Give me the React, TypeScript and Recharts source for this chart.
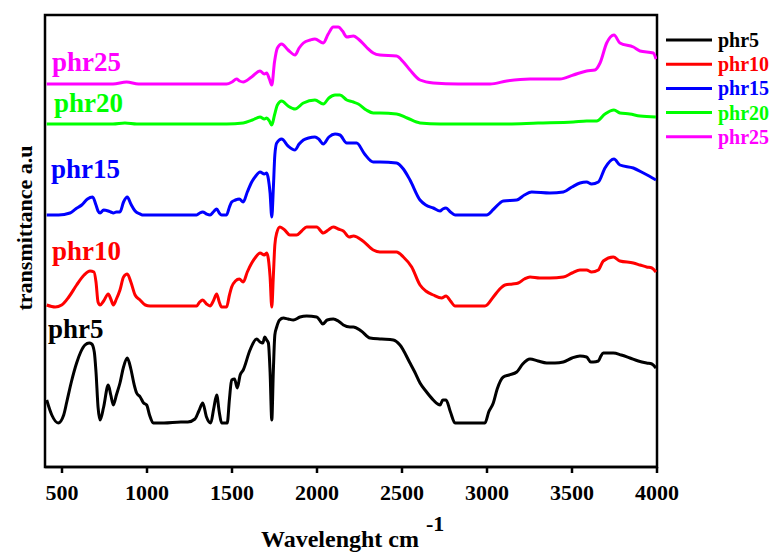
import React from 'react'
import {
  LineChart, Line, XAxis, YAxis, ReferenceArea, Legend,
} from 'recharts'

// FTIR spectra, each curve already shifted up by its stacking offset (a.u.)
// points are [wavenumber cm-1, transmittance a.u.]
const PHR5: [number, number][] = [
  [410, 67], [440, 52], [478, 44], [510, 52], [528, 65], [555, 85], [586, 104], [610, 115],
  [635, 122], [660, 124], [675, 123], [690, 115], [700, 95], [712, 60], [724, 47], [745, 60],
  [772, 82], [787, 72], [802, 62], [820, 72], [841, 84], [862, 100], [884, 109], [905, 98],
  [925, 82], [939, 74], [960, 70], [980, 64], [998, 62], [1015, 52], [1037, 44], [1100, 44],
  [1200, 45], [1240, 45], [1282, 48], [1305, 56], [1328, 64], [1350, 50], [1375, 44], [1392, 58],
  [1410, 72], [1425, 55], [1439, 44], [1472, 44], [1485, 68], [1498, 87], [1515, 88], [1531, 79],
  [1548, 92], [1566, 97], [1606, 117], [1645, 128], [1665, 125], [1681, 124], [1693, 130], [1704, 127],
  [1714, 124], [1724, 95], [1734, 47], [1743, 95], [1752, 132], [1763, 140], [1780, 147], [1802, 149],
  [1830, 148], [1861, 147], [1900, 150], [1939, 151], [1998, 150], [2015, 147], [2034, 143], [2060, 147],
  [2096, 148], [2125, 146], [2155, 142], [2194, 140], [2214, 140], [2260, 136], [2312, 129], [2380, 128],
  [2449, 127], [2488, 122], [2547, 104], [2575, 95], [2606, 84], [2640, 76], [2684, 67], [2710, 63],
  [2724, 62], [2740, 67], [2759, 67], [2785, 55], [2812, 44], [2900, 44], [2988, 44], [3010, 55],
  [3037, 64], [3060, 78], [3096, 90], [3130, 92], [3175, 95], [3210, 103], [3253, 108], [3300, 106],
  [3351, 104], [3400, 104], [3449, 105], [3500, 109], [3547, 111], [3586, 110], [3610, 105], [3625, 105],
  [3655, 106], [3670, 111], [3684, 114], [3743, 114], [3790, 112], [3841, 109], [3890, 106], [3939, 104],
  [3970, 103], [3994, 99],
]

const PHR10: [number, number][] = [
  [410, 162], [460, 160], [498, 162], [540, 170], [586, 182], [630, 192], [665, 196], [688, 195],
  [700, 185], [712, 165], [724, 162], [745, 166], [772, 173], [787, 168], [802, 162], [820, 168],
  [841, 177], [862, 190], [884, 193], [905, 185], [930, 172], [959, 167], [990, 162], [1018, 161],
  [1150, 161], [1292, 161], [1310, 165], [1328, 167], [1350, 163], [1371, 161], [1390, 166], [1410, 173],
  [1425, 165], [1439, 160], [1468, 160], [1485, 172], [1498, 180], [1520, 186], [1543, 188], [1566, 185],
  [1590, 195], [1616, 204], [1640, 210], [1665, 214], [1690, 212], [1704, 214], [1714, 208], [1724, 190],
  [1734, 160], [1743, 190], [1752, 222], [1763, 234], [1782, 240], [1810, 237], [1840, 232], [1880, 232],
  [1910, 236], [1939, 240], [1998, 240], [2037, 234], [2066, 237], [2096, 240], [2125, 238], [2155, 236],
  [2190, 230], [2214, 231], [2270, 226], [2331, 217], [2370, 215], [2468, 215], [2508, 210], [2557, 200],
  [2606, 182], [2640, 176], [2684, 172], [2733, 169], [2759, 171], [2785, 166], [2812, 161], [2900, 161],
  [2988, 161], [3037, 170], [3070, 177], [3106, 182], [3150, 183], [3184, 184], [3220, 188], [3253, 190],
  [3310, 189], [3370, 189], [3449, 190], [3500, 194], [3547, 197], [3586, 197], [3615, 195], [3655, 197],
  [3684, 206], [3743, 210], [3782, 206], [3861, 204], [3900, 202], [3939, 200], [3970, 199], [3994, 195],
]

const PHR15: [number, number][] = [
  [410, 252], [480, 252], [547, 254], [580, 258], [616, 262], [650, 268], [680, 270], [700, 262],
  [712, 256], [724, 254], [745, 257], [772, 256], [787, 255], [802, 254], [820, 255], [841, 255],
  [862, 265], [884, 270], [905, 263], [930, 256], [960, 253], [978, 252], [1100, 252], [1292, 252],
  [1310, 254], [1328, 255], [1350, 253], [1371, 252], [1390, 255], [1410, 258], [1425, 254], [1439, 252],
  [1468, 252], [1485, 260], [1498, 265], [1520, 267], [1543, 268], [1566, 265], [1590, 275], [1616, 285],
  [1640, 291], [1665, 295], [1690, 293], [1704, 294], [1714, 288], [1724, 274], [1734, 250], [1743, 278],
  [1752, 312], [1763, 324], [1792, 328], [1830, 321], [1871, 317], [1895, 323], [1920, 327], [1950, 329],
  [1988, 330], [2010, 328], [2037, 323], [2070, 330], [2106, 333], [2135, 332], [2175, 324], [2214, 324],
  [2233, 324], [2280, 313], [2331, 305], [2370, 305], [2468, 304], [2508, 298], [2547, 287], [2606, 267],
  [2640, 262], [2684, 259], [2724, 256], [2740, 258], [2759, 259], [2785, 255], [2812, 252], [2900, 252],
  [2998, 252], [3040, 258], [3096, 266], [3175, 267], [3220, 272], [3263, 275], [3370, 274], [3449, 275],
  [3500, 280], [3547, 284], [3586, 285], [3615, 283], [3655, 285], [3694, 299], [3747, 308], [3782, 302],
  [3861, 299], [3920, 294], [3994, 287],
]

const PHR20: [number, number][] = [
  [410, 343], [800, 343], [870, 344], [940, 343], [1468, 343], [1566, 344], [1620, 347], [1665, 350],
  [1690, 348], [1704, 349], [1720, 346], [1734, 342], [1750, 352], [1767, 362], [1792, 366], [1830, 361],
  [1871, 358], [1920, 364], [1988, 367], [2037, 363], [2070, 369], [2106, 372], [2135, 372], [2175, 367],
  [2214, 365], [2243, 363], [2290, 357], [2331, 354], [2370, 354], [2468, 353], [2530, 349], [2606, 344],
  [2724, 343], [3100, 343], [3300, 344], [3508, 345], [3586, 346], [3645, 346], [3694, 353], [3747, 357],
  [3782, 354], [3840, 353], [3900, 351], [3994, 350],
]

const PHR25: [number, number][] = [
  [410, 383], [800, 383], [880, 385], [950, 383], [1468, 383], [1500, 385], [1527, 388], [1545, 386],
  [1566, 385], [1615, 390], [1665, 396], [1690, 393], [1704, 394], [1720, 388], [1734, 382], [1750, 405],
  [1767, 419], [1792, 423], [1830, 417], [1871, 412], [1895, 419], [1920, 424], [1960, 427], [1988, 428],
  [2037, 424], [2066, 433], [2096, 440], [2125, 440], [2150, 436], [2175, 430], [2214, 431], [2243, 428],
  [2290, 420], [2331, 414], [2370, 412], [2468, 411], [2508, 405], [2547, 397], [2606, 387], [2684, 384],
  [2831, 383], [3018, 383], [3116, 386], [3253, 388], [3429, 388], [3508, 392], [3586, 396], [3635, 397],
  [3665, 404], [3704, 424], [3747, 432], [3782, 424], [3861, 420], [3900, 416], [3978, 414], [3994, 408],
]

const X_TICKS = [500, 1000, 1500, 2000, 2500, 3000, 3500, 4000]

const SERIES = [
  { name: 'phr5', color: '#000000', points: PHR5 },
  { name: 'phr10', color: '#ff0000', points: PHR10 },
  { name: 'phr15', color: '#0000ff', points: PHR15 },
  { name: 'phr20', color: '#00ff00', points: PHR20 },
  { name: 'phr25', color: '#ff00ff', points: PHR25 },
]
const SERIES_ORDER = SERIES.map(s => s.name)

// in-plot captions next to each curve
const CAPTIONS = [
  { text: 'phr25', color: '#ff00ff', x: 52, y: 71 },
  { text: 'phr20', color: '#00ff00', x: 54, y: 112 },
  { text: 'phr15', color: '#0000ff', x: 51, y: 178 },
  { text: 'phr10', color: '#ff0000', x: 52, y: 260 },
  { text: 'phr5', color: '#000000', x: 48, y: 338 },
]

const FONT = '"Liberation Serif", "Times New Roman", serif'

function renderLegend(props: any) {
  // keep the legend in series order (phr5 at the top)
  const items = [...(props.payload || [])].sort(
    (a: any, b: any) => SERIES_ORDER.indexOf(a.value) - SERIES_ORDER.indexOf(b.value),
  )
  return (
    <svg width={111} height={130} style={{ display: 'block' }}>
      {items.map((it: any, i: number) => (
        <g key={it.value} transform={`translate(0, ${12 + i * 24.2})`}>
          <line x1={6} x2={52} y1={0} y2={0} stroke={it.color} strokeWidth={3} />
          <text x={58} y={7} fill={it.color} fontFamily={FONT} fontWeight="bold" fontSize={20}>
            {it.value}
          </text>
        </g>
      ))}
    </svg>
  )
}

function XTick(props: any) {
  const { x, y, payload } = props
  return (
    <text
      x={x}
      y={y + 27}
      textAnchor="middle"
      fill="#000"
      fontFamily={FONT}
      fontWeight="bold"
      fontSize={22}
      style={{ fontFamily: FONT }}
    >
      {payload.value}
    </text>
  )
}

export default function App() {
  return (
    <div style={{ position: 'absolute', left: 0, top: 0, width: 771, height: 552, background: '#fff' }}>
      <LineChart
        width={771}
        height={552}
        margin={{ top: 15, right: 114, bottom: 55, left: 45 }}
      >
        <XAxis
          type="number"
          dataKey="x"
          domain={[400, 4000]}
          ticks={X_TICKS}
          allowDataOverflow
          height={30}
          tickSize={6}
          tickMargin={0}
          axisLine={{ stroke: '#000', strokeWidth: 2.5 }}
          tickLine={{ stroke: '#000', strokeWidth: 2.5 }}
          tick={<XTick />}
        />
        <YAxis type="number" dataKey="y" domain={[0, 452]} hide />
        <ReferenceArea
          x1={400}
          x2={4000}
          y1={0}
          y2={452}
          fill="none"
          stroke="#000"
          strokeWidth={2.5}
          ifOverflow="visible"
        />
        {SERIES.map(s => (
          <Line
            key={s.name}
            name={s.name}
            data={s.points.map(([x, y]) => ({ x, y }))}
            dataKey="y"
            type="monotone"
            stroke={s.color}
            strokeWidth={3}
            dot={false}
            activeDot={false}
            isAnimationActive={false}
          />
        ))}
        <Legend
          layout="vertical"
          align="center"
          verticalAlign="middle"
          wrapperStyle={{ left: 660, top: 28, width: 111, height: 130 }}
          content={renderLegend}
        />
      </LineChart>
      <svg
        width={771}
        height={552}
        style={{ position: 'absolute', left: 0, top: 0, pointerEvents: 'none' }}
      >
        {CAPTIONS.map(c => (
          <text key={c.text} x={c.x} y={c.y} fill={c.color} fontFamily={FONT} fontWeight="bold" fontSize={27}>
            {c.text}
          </text>
        ))}
        <text
          transform="translate(24, 228) rotate(-90)"
          textAnchor="middle"
          dominantBaseline="central"
          fontFamily={FONT}
          fontWeight="bold"
          fontSize={22}
          fill="#000"
        >
          transmittance a.u
        </text>
        <text x={340} y={547} textAnchor="middle" fontFamily={FONT} fontWeight="bold" fontSize={24} fill="#000">
          Wavelenght cm
        </text>
        <text x={426} y={531} fontFamily={FONT} fontWeight="bold" fontSize={22} fill="#000">
          -1
        </text>
      </svg>
    </div>
  )
}
